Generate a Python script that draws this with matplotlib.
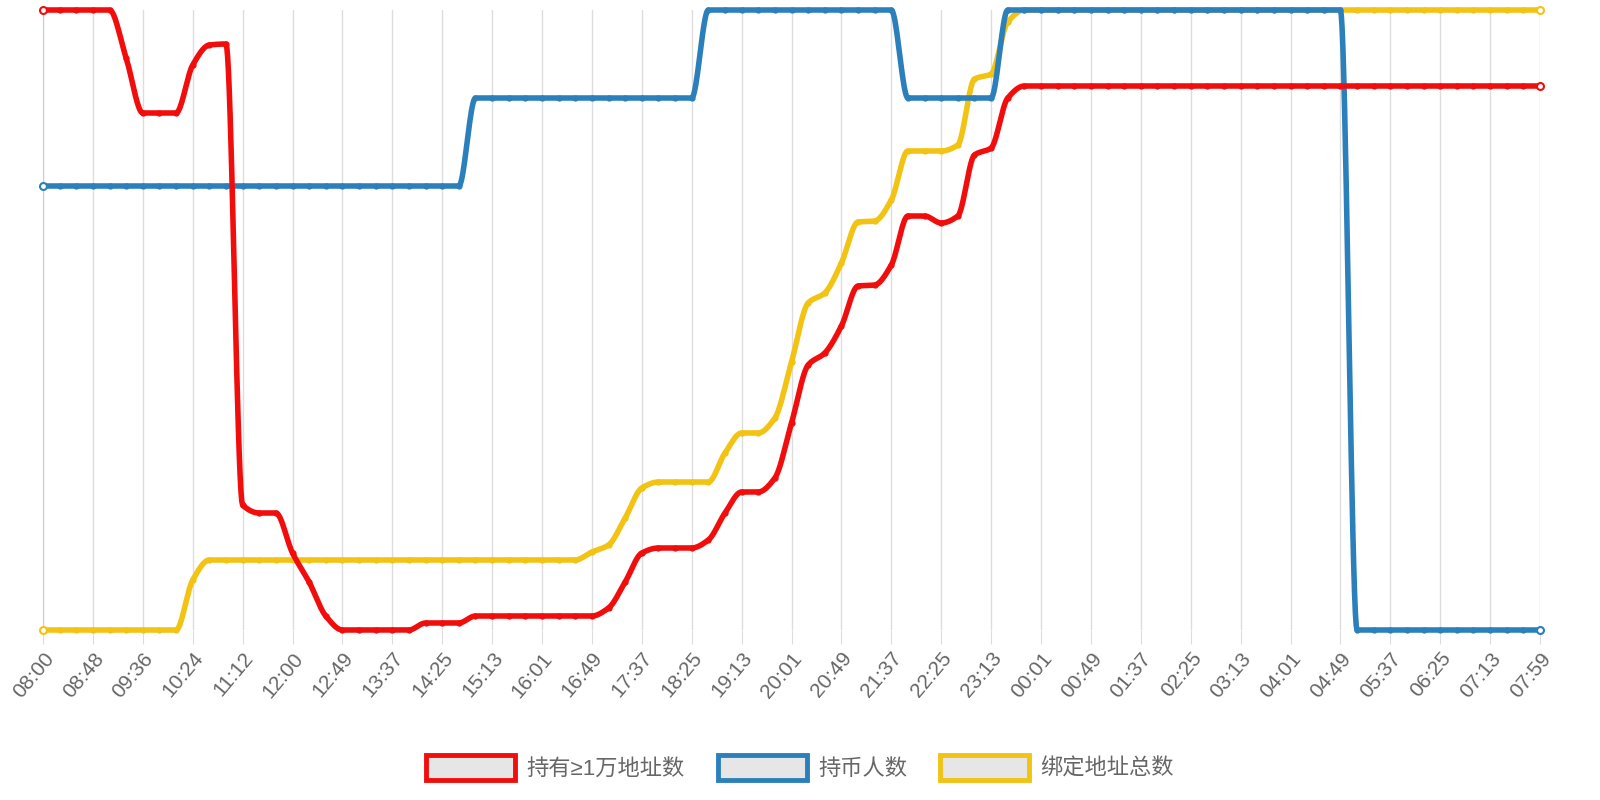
import matplotlib.pyplot as plt
import numpy as np
from matplotlib.patches import Patch
from matplotlib.font_manager import FontProperties

plt.rcParams['font.family'] = ['Noto Sans CJK SC', 'DejaVu Sans']

# tick labels (every 3rd point, 91 points total)
tick_labels = ['08:00', '08:48', '09:36', '10:24', '11:12', '12:00', '12:49', '13:37', '14:25',
               '15:13', '16:01', '16:49', '17:37', '18:25', '19:13', '20:01', '20:49', '21:37',
               '22:25', '23:13', '00:01', '00:49', '01:37', '02:25', '03:13', '04:01', '04:49',
               '05:37', '06:25', '07:13', '07:59']
n_points = 91

# values are read as relative heights (0 = bottom of plot, 620 = top), each series on its own hidden scale
red = [620]*5 + [572, 517, 517, 517, 565, 585, 586, 125, 117, 117, 77, 48, 14, 0, 0, 0, 0, 0,
       7, 7, 7, 14, 14, 14, 14, 14, 14, 14, 14, 22, 48, 77, 82, 82, 82, 90, 117, 138, 138, 152,
       207, 265, 277, 304, 344, 345, 365, 414, 414, 407, 414, 475, 482, 532, 544]
red += [544] * (n_points - len(red))
blue = [444]*26 + [532]*14 + [620]*12 + [532]*6 + [620]*21 + [0]*12
yellow = [0]*9 + [50] + [70]*23 + [78, 85, 112, 142, 148, 148, 148, 148, 177, 197, 197, 212,
                               268, 327, 337, 367, 408, 409, 430, 479, 479, 479, 485, 551, 556,
                               608, 620]
yellow += [620] * (n_points - len(yellow))

names = ['持有≥1万地址数', '持币人数', '绑定地址总数']
colors = ['#f20d0d', '#2b80bb', '#f2c313']


def monotone(x, y, num=20):
    # Fritsch-Carlson monotone cubic interpolation
    x = np.asarray(x, float); y = np.asarray(y, float)
    h = np.diff(x); d = np.diff(y) / h
    m = np.zeros_like(y)
    m[0], m[-1] = d[0], d[-1]
    for k in range(1, len(y) - 1):
        if d[k-1] * d[k] <= 0:
            m[k] = 0
        else:
            m[k] = 2 / (1 / d[k-1] + 1 / d[k])
    xs, ys = [], []
    for k in range(len(h)):
        t = np.linspace(0, 1, num, endpoint=False)
        h00 = 2*t**3 - 3*t**2 + 1; h10 = t**3 - 2*t**2 + t
        h01 = -2*t**3 + 3*t**2; h11 = t**3 - t**2
        xs.append(x[k] + t*h[k])
        ys.append(h00*y[k] + h10*h[k]*m[k] + h01*y[k+1] + h11*h[k]*m[k+1])
    xs.append([x[-1]]); ys.append([y[-1]])
    return np.concatenate(xs), np.concatenate(ys)


fig = plt.figure(figsize=(16, 8), dpi=100)
ax = fig.add_axes([43/1600, 1 - 630/800, 1497/1600, 620/800])
idx = np.arange(n_points)
# drawing order: yellow at bottom, then blue, then red on top
for vals, c, z in zip([red, blue, yellow], colors, [5, 4, 3]):
    sx, sy = monotone(idx, vals)
    ax.plot(sx, sy, color=c, lw=4, clip_on=False, solid_capstyle='round', zorder=z)
    ax.plot(idx, vals, 'o', color=c, ms=3.5, clip_on=False, zorder=z)
    ax.plot([idx[0], idx[-1]], [vals[0], vals[-1]], 'o', mfc='white', mec=c, ms=5, mew=1.5,
            clip_on=False, zorder=z)

ax.set_xlim(0, n_points - 1)
ax.set_ylim(0, 620)
ax.set_yticks([])
ax.set_xticks(np.arange(0, n_points, 3))
ax.set_xticklabels(tick_labels, rotation=50, ha='right', rotation_mode='anchor',
                   fontsize=15, color='#666666', family=['Liberation Sans', 'DejaVu Sans'])
ax.tick_params(axis='x', length=10, color='#dddddd')
ax.grid(axis='x', color='#dddddd', lw=1)
ax.set_axisbelow(True)
for s in ['top', 'right', 'bottom']:
    ax.spines[s].set_visible(False)
ax.spines['left'].set_color('#cccccc')

handles = [Patch(facecolor='#e6e6e6', edgecolor=c, linewidth=3.5) for c in colors]
fig.legend(handles, names, loc='lower center', bbox_to_anchor=(0.5, 0.0), ncol=3, frameon=False,
           prop=FontProperties(family=['Liberation Sans', 'Noto Sans CJK SC'], size=16),
           labelcolor='#666666', handlelength=4, handleheight=1.3, columnspacing=1.5,
           handletextpad=0.5)
fig.savefig('out.png')
